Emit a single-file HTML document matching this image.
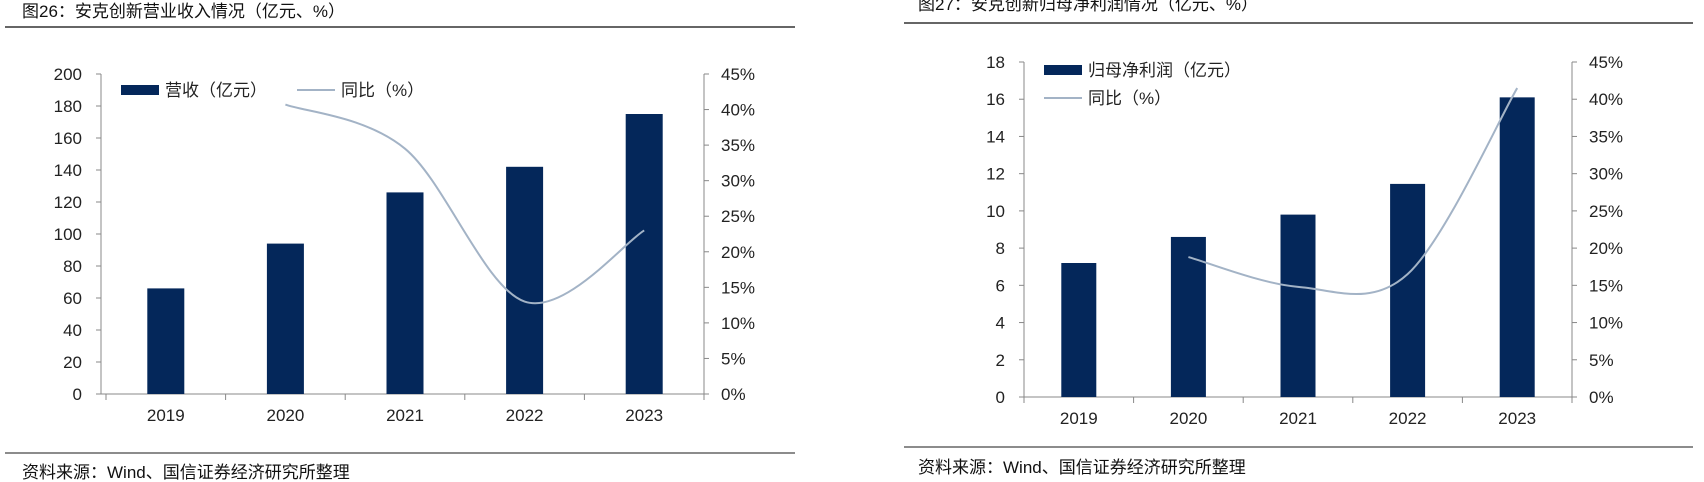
<!DOCTYPE html>
<html><head><meta charset="utf-8"><style>
html,body{margin:0;padding:0;background:#fff;width:1704px;height:482px;overflow:hidden}
svg{display:block;font-family:"Liberation Sans","Noto Sans CJK SC",sans-serif}
</style></head><body>
<svg id="s" width="1704" height="482" viewBox="0 0 1704 482">
<text x="22" y="17" font-size="17" fill="#111">图26：安克创新营业收入情况（亿元、%）</text>
<line x1="5" y1="27" x2="795" y2="27" stroke="#333" stroke-width="1.5"/>
<line x1="5" y1="453" x2="795" y2="453" stroke="#666" stroke-width="1.5"/>
<text x="22" y="478" font-size="17" fill="#111">资料来源：Wind、国信证券经济研究所整理</text>
<text x="918" y="10" font-size="17" fill="#111">图27：安克创新归母净利润情况（亿元、%）</text>
<line x1="904" y1="23" x2="1693" y2="23" stroke="#333" stroke-width="1.5"/>
<line x1="904" y1="447" x2="1693" y2="447" stroke="#666" stroke-width="1.5"/>
<text x="918" y="473" font-size="17" fill="#111">资料来源：Wind、国信证券经济研究所整理</text>
<g id="c1"></g>
<g id="c2"></g>
</svg>
<script>
const categories = ["2019","2020","2021","2022","2023"];
const revenue = [66, 94, 126, 142, 175];
const revenueYoY = [null, 40.7, 34.5, 13, 23];
const revTicks = [0,20,40,60,80,100,120,140,160,180,200];
const profit = [7.2, 8.6, 9.8, 11.45, 16.1];
const profitYoY = [null, 18.8, 14.8, 16.5, 41.5];
const profTicks = [0,2,4,6,8,10,12,14,16,18];
const pctTicks = [0,5,10,15,20,25,30,35,40,45];

const NS="http://www.w3.org/2000/svg";
function mk(p,t,a){const e=document.createElementNS(NS,t);for(const k in a)e.setAttribute(k,a[k]);p.appendChild(e);return e;}

function draw(g,cfg){
  const {x0,x1,yTop,yBot,axL,axR,bars,line,lTicks,lMax,barW,legend} = cfg;
  const n=categories.length, cw=(x1-x0)/n;
  const xc=i=>x0+cw*(i+0.5);
  const yL=v=>yBot-(v/lMax)*(yBot-yTop);
  const yR=v=>yBot-(v/45)*(yBot-yTop);
  // axes
  let e=mk(g,'line',{x1:axL,y1:yTop,x2:axL,y2:yBot,stroke:'#888'});
  
  
  e=mk(g,'line',{x1:axR,y1:yTop,x2:axR,y2:yBot,stroke:'#888'});
  
  
  e=mk(g,'line',{x1:axL,y1:yBot,x2:axR,y2:yBot,stroke:'#888'});
  
  
  lTicks.forEach(v=>{
    mk(g,'line',{x1:axL-5,y1:yL(v),x2:axL,y2:yL(v),stroke:'#888'});
    const t=mk(g,'text',{x:axL-19,y:yL(v)+6,'font-size':17,'text-anchor':'end',fill:'#222'});
    t.textContent=v;
    
    
  });
  pctTicks.forEach(v=>{
    mk(g,'line',{x1:axR,y1:yR(v),x2:axR+5,y2:yR(v),stroke:'#888'});
    const t=mk(g,'text',{x:axR+17,y:yR(v)+6,'font-size':17,fill:'#222'});
    t.textContent=v+'%';
    
    
  });
  for(let i=0;i<=n;i++) mk(g,'line',{x1:x0+cw*i,y1:yBot,x2:x0+cw*i,y2:yBot+6,stroke:'#888'});
  categories.forEach((c,i)=>{
    const t=mk(g,'text',{x:xc(i),y:yBot+27,'font-size':17,'text-anchor':'middle',fill:'#222'});
    t.textContent=c;
    
    
    const r=mk(g,'rect',{x:xc(i)-barW/2,y:yL(bars[i]),width:barW,height:yBot-yL(bars[i]),fill:'#04275a'});
    
    
  });
  // smooth line (catmull-rom)
  const pts=[];line.forEach((v,i)=>{if(v!==null)pts.push([xc(i),yR(v)]);});
  let d='M'+pts[0][0]+','+pts[0][1];
  for(let i=0;i<pts.length-1;i++){
    const p0=pts[i-1]||pts[i],p1=pts[i],p2=pts[i+1],p3=pts[i+2]||p2;
    const c1=[p1[0]+(p2[0]-p0[0])/6,p1[1]+(p2[1]-p0[1])/6];
    const c2=[p2[0]-(p3[0]-p1[0])/6,p2[1]-(p3[1]-p1[1])/6];
    d+=` C${c1[0]},${c1[1]} ${c2[0]},${c2[1]} ${p2[0]},${p2[1]}`;
  }
  const p=mk(g,'path',{d:d,fill:'none',stroke:'#a3b3c6','stroke-width':2});
  
  
  // legend
  legend.forEach(L=>{
    if(L.type==='bar') mk(g,'rect',{x:L.x,y:L.y-5,width:38,height:10,fill:'#04275a'});
    else mk(g,'line',{x1:L.x,y1:L.y,x2:L.x+38,y2:L.y,stroke:'#a3b3c6','stroke-width':2});
    const t=mk(g,'text',{x:L.x+44,y:L.y+6,'font-size':17,fill:'#222'});
    t.textContent=L.label;
    
    
  });
}
draw(document.getElementById('c1'),{x0:106,x1:704,yTop:74,yBot:394,axL:101,axR:704,bars:revenue,line:revenueYoY,lTicks:revTicks,lMax:200,barW:37,
  legend:[{type:'bar',x:121,y:90,label:'营收（亿元）'},{type:'line',x:297,y:90,label:'同比（%）'}]});
draw(document.getElementById('c2'),{x0:1024,x1:1572,yTop:62,yBot:397,axL:1024,axR:1572,bars:profit,line:profitYoY,lTicks:profTicks,lMax:18,barW:35,
  legend:[{type:'bar',x:1044,y:70,label:'归母净利润（亿元）'},{type:'line',x:1044,y:98,label:'同比（%）'}]});
</script>
</body></html>
